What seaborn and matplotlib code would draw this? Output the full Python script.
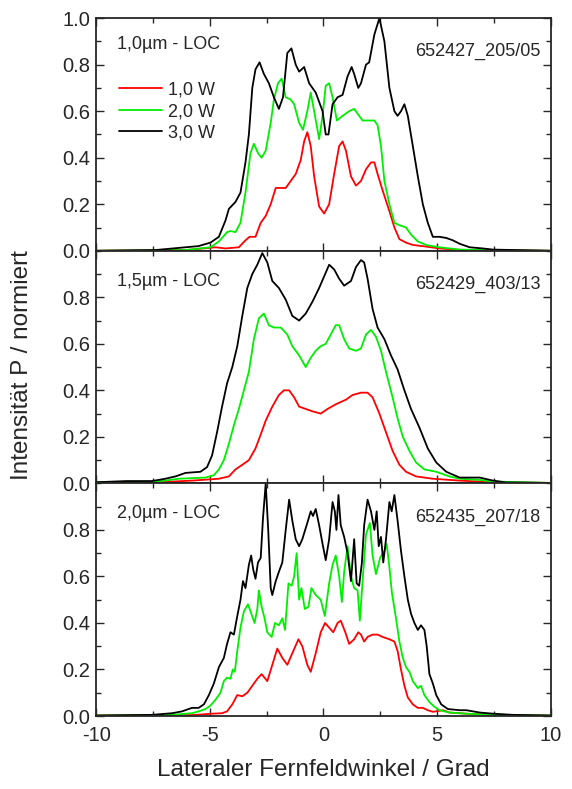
import matplotlib
matplotlib.use("Agg")
import matplotlib.pyplot as plt
from matplotlib.ticker import MultipleLocator
import numpy as np
import pandas as pd
import seaborn as sns

# ---------------- data ----------------
series_labels = ["1,0 W", "2,0 W", "3,0 W"]
series_colors = ["#ff0000", "#00ee00", "#000000"]

# Panel 1: 1,0 µm - LOC
p1_x_1W = [-10, -6.07, -5.5, -4.75, -4.31, -3.72, -3.43, -3.25, -2.99, -2.76, -2.54, -2.32, -2.1, -1.88, -1.66,
           -1.44, -1.22, -1.0, -0.85, -0.71, -0.56, -0.41, -0.19, 0.03, 0.25, 0.47, 0.69, 0.84, 0.99, 1.21,
           1.43, 1.65, 1.87, 2.09, 2.24, 2.38, 2.6, 2.9, 3.12, 3.34, 3.63, 3.93, 4.51, 5.1, 5.99, 10]
p1_y_1W = [0, 0.003, 0.008, 0.015, 0.01, 0.015, 0.045, 0.06, 0.06, 0.12, 0.15, 0.2, 0.27, 0.27, 0.27,
           0.30, 0.33, 0.39, 0.47, 0.51, 0.45, 0.32, 0.19, 0.16, 0.2, 0.33, 0.45, 0.47, 0.43, 0.32,
           0.28, 0.30, 0.35, 0.38, 0.38, 0.33, 0.26, 0.17, 0.10, 0.05, 0.035, 0.025, 0.018, 0.01, 0.004, 0]
p1_x_2W = [-10, -6.07, -4.97, -4.6, -4.24, -4.09, -3.87, -3.65, -3.43, -3.21, -3.06, -2.88, -2.72, -2.54,
           -2.32, -2.18, -2.0, -1.84, -1.66, -1.44, -1.29, -1.07, -0.9, -0.71, -0.56, -0.41, -0.19, -0.04,
           0.1, 0.25, 0.4, 0.59, 0.84, 1.13, 1.35, 1.57, 1.72, 2.01, 2.24, 2.38, 2.53, 2.68, 2.9, 3.12,
           3.34, 3.63, 3.85, 4.15, 4.51, 5.1, 5.99, 7.46, 10]
p1_y_2W = [0, 0.003, 0.015, 0.04, 0.08, 0.085, 0.08, 0.12, 0.25, 0.42, 0.46, 0.42, 0.40, 0.43,
           0.55, 0.65, 0.72, 0.74, 0.66, 0.65, 0.63, 0.55, 0.52, 0.60, 0.68, 0.60, 0.48, 0.58,
           0.71, 0.72, 0.66, 0.56, 0.58, 0.60, 0.61, 0.58, 0.56, 0.56, 0.56, 0.54, 0.45, 0.30, 0.20, 0.12,
           0.11, 0.10, 0.07, 0.04, 0.025, 0.015, 0.005, 0.002, 0]
p1_x_3W = [-10, -7.4, -6.07, -5.5, -4.97, -4.6, -4.31, -4.16, -3.87, -3.65, -3.43, -3.28, -3.13, -2.99, -2.81,
           -2.62, -2.4, -2.18, -1.96, -1.78, -1.59, -1.41, -1.22, -1.07, -0.85, -0.63, -0.34, -0.04, 0.1,
           0.22, 0.4, 0.62, 0.84, 1.06, 1.24, 1.35, 1.53, 1.65, 1.87, 2.01, 2.24, 2.46, 2.68, 2.9, 3.12,
           3.26, 3.41, 3.56, 3.71, 3.93, 4.15, 4.37, 4.59, 4.81, 5.1, 5.4, 5.69, 5.99, 6.43, 7.01, 7.46, 10]
p1_y_3W = [0, 0.003, 0.015, 0.02, 0.035, 0.06, 0.13, 0.18, 0.21, 0.25, 0.38, 0.5, 0.7, 0.78, 0.81,
           0.76, 0.72, 0.66, 0.61, 0.66, 0.85, 0.87, 0.80, 0.77, 0.79, 0.72, 0.68, 0.60, 0.50,
           0.50, 0.63, 0.66, 0.67, 0.75, 0.79, 0.76, 0.70, 0.72, 0.80, 0.81, 0.93, 1.0, 0.90, 0.70, 0.60,
           0.58, 0.60, 0.63, 0.58, 0.45, 0.32, 0.20, 0.12, 0.06, 0.06, 0.055, 0.045, 0.03, 0.015, 0.01, 0.005, 0]

# Panel 2: 1,5 µm - LOC
p2_x_1W = [-10, -7.25, -5.78, -4.6, -4.16, -3.87, -3.57, -3.28, -2.99, -2.76, -2.54, -2.25, -1.96, -1.74,
           -1.51, -1.29, -1.07, -0.78, -0.49, -0.12, 0.18, 0.54, 0.99, 1.28, 1.65, 1.94, 2.16, 2.46, 2.75,
           3.04, 3.34, 3.63, 4.07, 4.81, 5.99, 7.46, 10]
p2_y_1W = [0.003, 0.005, 0.012, 0.02, 0.03, 0.06, 0.08, 0.10, 0.15, 0.21, 0.27, 0.33, 0.38, 0.40,
           0.40, 0.37, 0.33, 0.32, 0.31, 0.30, 0.32, 0.34, 0.36, 0.38, 0.39, 0.39, 0.37, 0.30, 0.22,
           0.14, 0.08, 0.05, 0.03, 0.02, 0.012, 0.005, 0.002]
p2_x_2W = [-10, -7.54, -6.96, -6.37, -5.19, -4.82, -4.6, -4.38, -4.16, -3.94, -3.72, -3.5, -3.28, -3.06,
           -2.84, -2.62, -2.4, -2.18, -1.88, -1.59, -1.37, -1.07, -0.78, -0.56, -0.34, -0.12, 0.1, 0.32,
           0.54, 0.69, 0.91, 1.13, 1.43, 1.65, 1.87, 2.09, 2.31, 2.53, 2.75, 3.04, 3.26, 3.49, 3.78, 4.07,
           4.44, 4.96, 5.54, 5.99, 6.87, 7.46, 10]
p2_y_2W = [0.005, 0.008, 0.012, 0.02, 0.025, 0.035, 0.06, 0.10, 0.17, 0.25, 0.32, 0.40, 0.48, 0.62,
           0.71, 0.73, 0.68, 0.67, 0.67, 0.64, 0.59, 0.55, 0.50, 0.54, 0.57, 0.59, 0.60, 0.64,
           0.68, 0.68, 0.62, 0.58, 0.57, 0.58, 0.64, 0.66, 0.63, 0.57, 0.48, 0.37, 0.28, 0.20, 0.14, 0.09,
           0.06, 0.05, 0.03, 0.02, 0.015, 0.008, 0.002]
p2_x_3W = [-10, -8.66, -7.54, -6.96, -6.51, -6.07, -5.41, -5.12, -4.9, -4.68, -4.46, -4.24, -4.01, -3.79,
           -3.57, -3.35, -3.13, -2.91, -2.69, -2.47, -2.25, -1.96, -1.66, -1.37, -1.07, -0.78, -0.49,
           -0.19, 0.03, 0.25, 0.47, 0.69, 0.91, 1.21, 1.43, 1.65, 1.79, 1.94, 2.16, 2.38, 2.68, 2.97,
           3.26, 3.56, 3.85, 4.22, 4.59, 4.96, 5.4, 5.99, 6.87, 7.46, 8.04, 10]
p2_y_3W = [0.005, 0.01, 0.01, 0.02, 0.03, 0.045, 0.05, 0.07, 0.12, 0.22, 0.33, 0.43, 0.50, 0.59,
           0.72, 0.84, 0.90, 0.94, 0.99, 0.95, 0.87, 0.84, 0.79, 0.72, 0.70, 0.73, 0.78,
           0.84, 0.89, 0.94, 0.92, 0.88, 0.85, 0.87, 0.93, 0.96, 0.95, 0.88, 0.75, 0.67, 0.62, 0.55,
           0.49, 0.40, 0.32, 0.24, 0.15, 0.09, 0.05, 0.025, 0.025, 0.012, 0.004, 0.002]

# Panel 3: 2,0 µm - LOC
p3_x_1W = [-10, -5.78, -4.9, -4.46, -4.24, -4.01, -3.79, -3.57, -3.35, -3.13, -2.91, -2.72, -2.47, -2.25,
           -2.03, -1.81, -1.59, -1.37, -1.1, -0.93, -0.71, -0.56, -0.34, -0.12, 0.07, 0.25, 0.43, 0.62,
           0.76, 0.96, 1.13, 1.35, 1.53, 1.65, 1.79, 1.94, 2.16, 2.38, 2.6, 2.9, 3.12, 3.26, 3.41, 3.56,
           3.71, 3.93, 4.15, 4.37, 4.59, 4.81, 5.25, 5.54, 6.28, 7.46, 10]
p3_y_1W = [0.002, 0.004, 0.01, 0.012, 0.02, 0.05, 0.09, 0.085, 0.10, 0.13, 0.16, 0.18, 0.15, 0.22,
           0.29, 0.25, 0.22, 0.27, 0.33, 0.30, 0.22, 0.19, 0.27, 0.36, 0.40, 0.38, 0.36, 0.40,
           0.41, 0.36, 0.31, 0.33, 0.36, 0.35, 0.32, 0.34, 0.35, 0.35, 0.34, 0.33, 0.32, 0.28, 0.20, 0.13,
           0.08, 0.05, 0.035, 0.035, 0.025, 0.018, 0.025, 0.015, 0.01, 0.004, 0.002]
p3_x_2W = [-10, -6.66, -6.07, -5.78, -5.49, -5.19, -4.97, -4.75, -4.53, -4.38, -4.24, -4.09, -3.99, -3.9,
           -3.79, -3.65, -3.5, -3.32, -3.21, -3.03, -2.91, -2.84, -2.72, -2.59, -2.47, -2.28, -2.13, -1.96,
           -1.81, -1.69, -1.54, -1.4, -1.29, -1.18, -1.07, -0.97, -0.82, -0.66, -0.53, -0.34, -0.12, 0.06,
           0.25, 0.4, 0.54, 0.69, 0.81, 0.91, 1.06, 1.21, 1.35, 1.5, 1.6, 1.75, 1.87, 2.04, 2.16, 2.31,
           2.49, 2.68, 2.78, 2.9, 3.01, 3.19, 3.34, 3.49, 3.63, 3.78, 3.93, 4.15, 4.29, 4.44, 4.66, 4.88,
           5.1, 5.54, 6.28, 7.46, 10]
p3_y_2W = [0.002, 0.005, 0.01, 0.012, 0.02, 0.03, 0.045, 0.07, 0.10, 0.15, 0.165, 0.16, 0.20, 0.19,
           0.28, 0.38, 0.45, 0.48, 0.45, 0.40, 0.46, 0.54, 0.47, 0.42, 0.36, 0.34, 0.40, 0.39,
           0.42, 0.37, 0.57, 0.56, 0.60, 0.70, 0.50, 0.55, 0.46, 0.47, 0.55, 0.52, 0.50, 0.43,
           0.57, 0.65, 0.69, 0.60, 0.49, 0.62, 0.73, 0.60, 0.55, 0.54, 0.41, 0.62, 0.78, 0.83, 0.69, 0.61,
           0.68, 0.71, 0.74, 0.64, 0.53, 0.42, 0.32, 0.25, 0.21, 0.19, 0.15, 0.12, 0.13, 0.09, 0.06, 0.04,
           0.025, 0.015, 0.01, 0.005, 0.002]
p3_x_3W = [-10, -7.54, -6.66, -6.22, -5.93, -5.78, -5.49, -5.26, -5.04, -4.82, -4.6, -4.38, -4.24, -4.09,
           -3.94, -3.79, -3.65, -3.54, -3.43, -3.28, -3.18, -3.09, -2.99, -2.88, -2.76, -2.66, -2.54,
           -2.43, -2.32, -2.25, -2.1, -1.96, -1.81, -1.66, -1.51, -1.37, -1.22, -1.07, -0.93, -0.71,
           -0.56, -0.46, -0.34, -0.19, -0.04, 0.1, 0.25, 0.4, 0.5, 0.57, 0.66, 0.76, 0.91, 1.06, 1.21,
           1.35, 1.46, 1.57, 1.69, 1.79, 1.94, 2.09, 2.24, 2.34, 2.43, 2.53, 2.63, 2.75, 2.9, 3.0, 3.12,
           3.26, 3.41, 3.56, 3.71, 3.85, 4.0, 4.15, 4.29, 4.44, 4.54, 4.66, 4.81, 4.96, 5.18, 5.47, 5.99,
           6.28, 6.87, 7.46, 8.34, 10]
p3_y_3W = [0.002, 0.005, 0.012, 0.02, 0.03, 0.035, 0.035, 0.05, 0.09, 0.14, 0.21, 0.25, 0.31, 0.36,
           0.35, 0.43, 0.50, 0.58, 0.55, 0.65, 0.69, 0.63, 0.59, 0.66, 0.68, 0.85, 1.0,
           0.80, 0.55, 0.52, 0.58, 0.62, 0.66, 0.80, 0.93, 0.84, 0.76, 0.73, 0.76, 0.83,
           0.88, 0.86, 0.89, 0.82, 0.74, 0.67, 0.76, 0.92, 0.88, 0.80, 0.95, 0.82, 0.77, 0.70, 0.58,
           0.76, 0.57, 0.56, 0.66, 0.82, 0.93, 0.88, 0.80, 0.88, 0.73, 0.77, 0.66, 0.76, 0.92, 0.88, 0.95,
           0.84, 0.71, 0.60, 0.50, 0.44, 0.40, 0.37, 0.39, 0.37, 0.30, 0.18, 0.14, 0.09, 0.05, 0.03, 0.025,
           0.025, 0.015, 0.01, 0.005, 0.002]

panel_titles = ["1,0µm - LOC", "1,5µm - LOC", "2,0µm - LOC"]
panel_ids = ["652427_205/05", "652429_403/13", "652435_207/18"]
x_ticks = [-10, -5, 0, 5, 10]
x_label = "Lateraler Fernfeldwinkel / Grad"
y_label = "Intensität P / normiert"

panels = [
    [(p1_x_1W, p1_y_1W), (p1_x_2W, p1_y_2W), (p1_x_3W, p1_y_3W)],
    [(p2_x_1W, p2_y_1W), (p2_x_2W, p2_y_2W), (p2_x_3W, p2_y_3W)],
    [(p3_x_1W, p3_y_1W), (p3_x_2W, p3_y_2W), (p3_x_3W, p3_y_3W)],
]

# ---------------- style ----------------
sns.set_style("ticks")
plt.rcParams["font.family"] = ["Liberation Sans", "DejaVu Sans"]
plt.rcParams.update({
    "axes.unicode_minus": False,
    "xtick.direction": "in", "ytick.direction": "in",
    "xtick.top": True, "ytick.right": True,
    "xtick.major.size": 6, "ytick.major.size": 6,
    "xtick.minor.size": 3.5, "ytick.minor.size": 3.5,
    "xtick.major.width": 1.0, "ytick.major.width": 1.0,
    "xtick.minor.width": 1.0, "ytick.minor.width": 1.0,
    "axes.linewidth": 1.3,
})

fig = plt.figure(figsize=(5.72, 7.89), dpi=100)
gs = fig.add_gridspec(3, 1, left=0.168, right=0.963, top=0.977, bottom=0.0925, hspace=0)
axes = [fig.add_subplot(gs[0])]
axes.append(fig.add_subplot(gs[1], sharex=axes[0]))
axes.append(fig.add_subplot(gs[2], sharex=axes[0]))

palette = dict(zip(series_labels, series_colors))

for i, ax in enumerate(axes):
    frames = []
    for lab, (xs, ys) in zip(series_labels, panels[i]):
        frames.append(pd.DataFrame({"Winkel": xs, "Intensität": ys, "Leistung": lab}))
    df = pd.concat(frames, ignore_index=True)
    sns.lineplot(data=df, x="Winkel", y="Intensität", hue="Leistung", hue_order=series_labels,
                 palette=palette, estimator=None, sort=False, linewidth=1.3, ax=ax,
                 legend=(i == 0))
    ax.set_xlim(-10, 10)
    ax.set_ylim(0, 1.0)
    ax.xaxis.set_major_locator(MultipleLocator(5))
    ax.xaxis.set_minor_locator(MultipleLocator(2.5))
    ax.yaxis.set_minor_locator(MultipleLocator(0.1))
    if i == 0:
        ax.set_yticks([0, 0.2, 0.4, 0.6, 0.8, 1.0])
    else:
        ax.set_yticks([0, 0.2, 0.4, 0.6, 0.8])
    ax.yaxis.set_major_formatter(matplotlib.ticker.FormatStrFormatter("%.1f"))
    ax.tick_params(axis="both", which="both", top=True, right=True)
    ax.tick_params(axis="y", labelsize=14.5, pad=4)
    ax.set_xlabel("")
    ax.set_ylabel("")
    if i < 2:
        ax.tick_params(axis="x", labelbottom=False)
    else:
        ax.set_xticks(x_ticks)
        ax.tick_params(axis="x", labelsize=14.5, pad=7)
    ax.text(0.046, 0.885 if i == 0 else 0.87, panel_titles[i], transform=ax.transAxes,
            fontsize=13, ha="left", va="center")
    ax.text(0.978, 0.855, panel_ids[i], transform=ax.transAxes,
            fontsize=13, ha="right", va="center")

handles, labels = axes[0].get_legend_handles_labels()
axes[0].legend(handles, labels, loc="upper left", bbox_to_anchor=(0.05, 0.727), frameon=False,
               fontsize=13, handlelength=2.4, handletextpad=0.3, labelspacing=0.25,
               borderaxespad=0, borderpad=0)

fig.text(22 / 572, 1 - 365 / 789, y_label, rotation=90, ha="center", va="center", fontsize=17.5)
fig.text(323.5 / 572, 1 - 770 / 789, x_label, ha="center", va="center", fontsize=17.5)

fig.savefig("out.png", dpi=100)
